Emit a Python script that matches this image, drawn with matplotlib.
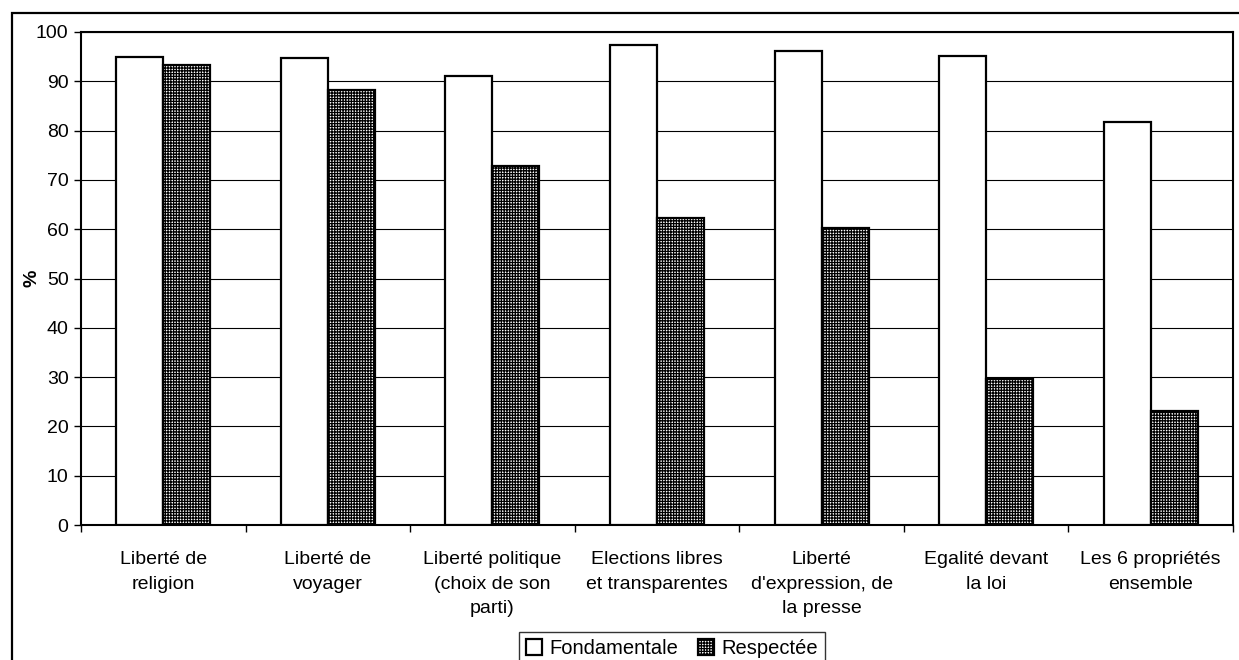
import numpy as np
import matplotlib
matplotlib.use('Agg')
import matplotlib.pyplot as plt
import matplotlib.ticker as ticker
from matplotlib.patches import Rectangle

# categories and values
categories = ['Liberté de\nreligion', 'Liberté de\nvoyager', 'Liberté politique\n(choix de son\nparti)',
              'Elections libres\net transparentes', "Liberté\nd'expression, de\nla presse",
              'Egalité devant\nla loi', 'Les 6 propriétés\nensemble']
fondamentale = [94.9, 94.7, 91.1, 97.3, 96.1, 95.1, 81.8]
respectee = [93.4, 88.2, 72.9, 62.3, 60.3, 29.7, 23.2]

plt.rcParams['font.family'] = ['Liberation Sans', 'DejaVu Sans']
plt.rcParams['hatch.linewidth'] = 0.9

fig = plt.figure(figsize=(12.39, 6.6), dpi=100)
ax = fig.add_axes([81/1239, 1 - 525/660, (1233 - 81)/1239, (525 - 32)/660])

# outer frame, cut by the image border
fig.patches.append(Rectangle((12/1239, -0.05), 1.1, 1 - 13/660 + 0.05, transform=fig.transFigure,
                             fill=False, edgecolor='black', linewidth=1.6, zorder=0))

x = np.arange(len(categories))
w = 1/3.5
ax.bar(x - w/2, fondamentale, w, color='white', edgecolor='black', linewidth=1.6,
       label='Fondamentale', zorder=3)
ax.bar(x + w/2, respectee, w, color='white', edgecolor='black', linewidth=1.6,
       hatch='++++++', label='Respectée', zorder=3)

ax.set_xlim(-0.5, len(categories) - 0.5)
ax.set_ylim(0, 100)
ax.yaxis.set_major_locator(ticker.MultipleLocator(10))
ax.yaxis.grid(True, color='black', linewidth=0.8)
ax.set_axisbelow(True)

ax.set_xticks(np.arange(len(categories) + 1) - 0.5)
ax.set_xticklabels([])
ax.set_xticks(x, minor=True)
ax.set_xticklabels(categories, minor=True, fontsize=14, linespacing=1.55, va='top')
ax.tick_params(axis='x', which='minor', length=0, pad=19)
ax.tick_params(axis='x', which='major', length=5, width=1, direction='out')
ax.tick_params(axis='y', length=5, width=1, direction='out', labelsize=14, pad=4)

for s in ax.spines.values():
    s.set_linewidth(1.5)

ax.set_ylabel('%', fontsize=14, fontweight='bold', labelpad=-3)

leg = fig.legend(loc='upper center', bbox_to_anchor=(672/1239, 1 - 632/660), ncol=2,
                 fontsize=14.5, frameon=True, fancybox=False, edgecolor='black',
                 handlelength=0.8, handleheight=0.8, handletextpad=0.35, columnspacing=1.0,
                 borderpad=0.35, borderaxespad=0)
leg.get_frame().set_linewidth(1.0)

fig.savefig('out.png', dpi=100)
